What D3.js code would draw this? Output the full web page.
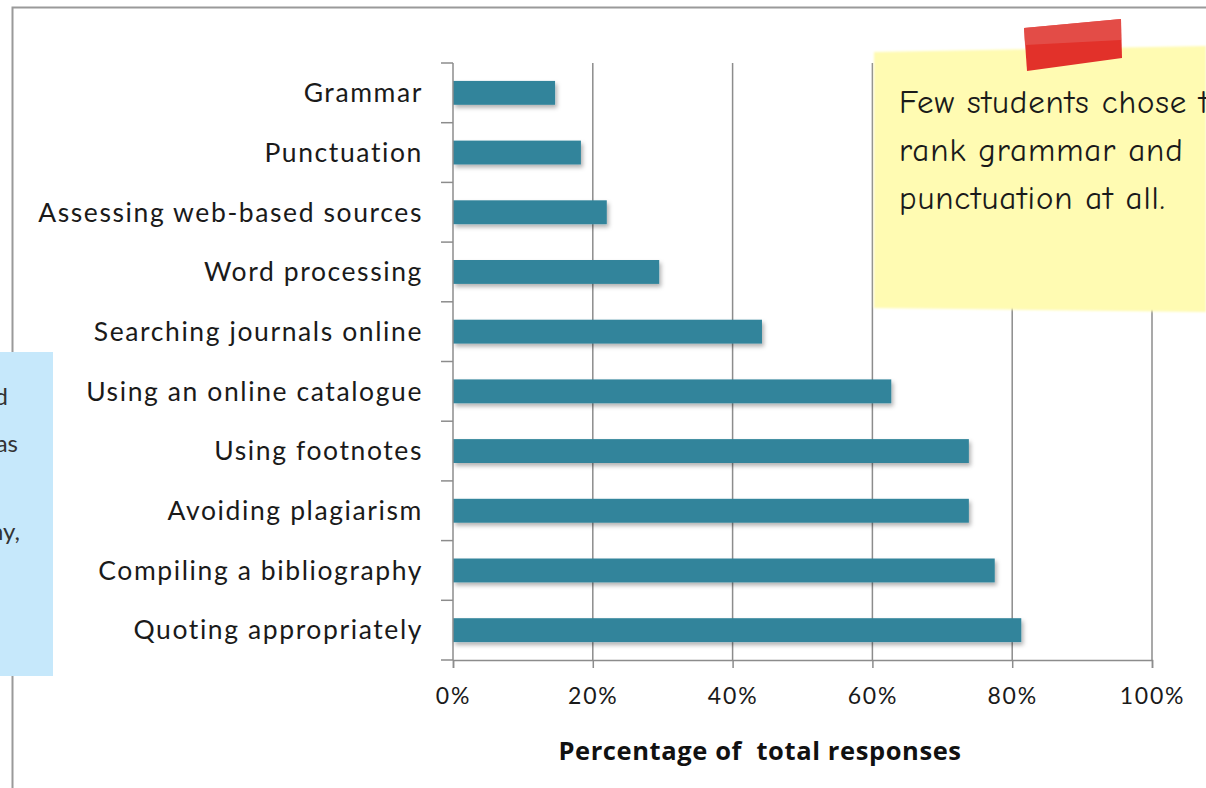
<!DOCTYPE html>
<html>
<head>
<meta charset="utf-8">
<script src="https://cdn.jsdelivr.net/npm/d3@7"></script>
<style>
  html, body { margin: 0; padding: 0; background: #fff; }
  svg { display: block; }
</style>
</head>
<body>
<svg id="chart" width="1206" height="788"></svg>
<script>
// Survey: which study skills students ranked as useful
const categories = [
  "Grammar",
  "Punctuation",
  "Assessing web-based sources",
  "Word processing",
  "Searching journals online",
  "Using an online catalogue",
  "Using footnotes",
  "Avoiding plagiarism",
  "Compiling a bibliography",
  "Quoting appropriately"
];
const percentages = [14.6, 18.3, 22.0, 29.5, 44.2, 62.7, 73.8, 73.8, 77.5, 81.3];
const xTicks = [0, 20, 40, 60, 80, 100];
const xTitle = "Percentage of  total responses";
const yellowNote = ["Few students chose to", "rank grammar and", "punctuation at all."];
const blueNote = ["Quoting appropriately and", "avoiding plagiarism was", "ranked most useful,", "then compiling a bibliography,"];

const svg = d3.select("#chart");
const W = 1206, H = 788;
const margin = { left: 453, right: 54, top: 63, bottom: 128 };
const innerW = W - margin.left - margin.right;
const innerH = H - margin.top - margin.bottom;

const defs = svg.append("defs");
const shadow = defs.append("filter").attr("id", "barShadow")
  .attr("x", "-5%").attr("y", "-30%").attr("width", "115%").attr("height", "180%");
shadow.append("feDropShadow").attr("dx", 2).attr("dy", 3)
  .attr("stdDeviation", 2).attr("flood-color", "#000").attr("flood-opacity", 0.3);

const noteBlur = defs.append("filter").attr("id", "noteSoft")
  .attr("x", "-5%").attr("y", "-5%").attr("width", "110%").attr("height", "110%");
noteBlur.append("feGaussianBlur").attr("stdDeviation", 1.2);

defs.append("clipPath").attr("id", "blueClip")
  .append("rect").attr("x", 0).attr("y", 352).attr("width", 53).attr("height", 324);

// outer frame (top and left edges visible)
svg.append("path")
  .attr("d", `M12.5,${H} V7.5 H${W}`)
  .attr("fill", "none").attr("stroke", "#9a9a9a").attr("stroke-width", 2);

const g = svg.append("g").attr("transform", `translate(${margin.left},${margin.top})`);

const x = d3.scaleLinear().domain([0, 100]).range([0, innerW]);
const y = d3.scaleBand().domain(categories).range([0, innerH]).paddingInner(0.6).paddingOuter(0.3);

const labelFont = "Lato, 'Open Sans', sans-serif";

// vertical gridlines
g.append("g").selectAll("line")
  .data(xTicks.slice(1))
  .join("line")
  .attr("x1", d => x(d)).attr("x2", d => x(d))
  .attr("y1", 0).attr("y2", innerH)
  .attr("stroke", "#8c8c8c").attr("stroke-width", 1.5);

// bars
g.append("g").selectAll("rect")
  .data(categories.map((c, i) => ({ c, v: percentages[i] })))
  .join("rect")
  .attr("x", x(0))
  .attr("y", d => y(d.c))
  .attr("width", d => x(d.v) - x(0))
  .attr("height", y.bandwidth())
  .attr("fill", "#31849b")
  .attr("filter", "url(#barShadow)");

// y axis with ticks between categories
const yAxisG = g.append("g");
yAxisG.append("line").attr("x1", 0).attr("x2", 0).attr("y1", 0).attr("y2", innerH)
  .attr("stroke", "#8c8c8c").attr("stroke-width", 1.5);
const step = innerH / categories.length;
yAxisG.selectAll("line.tk")
  .data(d3.range(categories.length + 1))
  .join("line").attr("class", "tk")
  .attr("x1", -12).attr("x2", 0)
  .attr("y1", i => i * step).attr("y2", i => i * step)
  .attr("stroke", "#8c8c8c").attr("stroke-width", 1.5);
yAxisG.selectAll("text")
  .data(categories)
  .join("text")
  .attr("x", -30)
  .attr("y", d => y(d) + y.bandwidth() / 2)
  .attr("dy", "0.35em")
  .attr("text-anchor", "end")
  .attr("font-family", labelFont)
  .attr("font-size", 26.5)
  .attr("letter-spacing", 1.6)
  .attr("fill", "#1a1a1a")
  .text(d => d);

// x axis
const xAxis = d3.axisBottom(x).tickValues(xTicks).tickFormat(d => d + "%").tickSize(8).tickPadding(20);
const xAxisG = g.append("g").attr("transform", `translate(0,${innerH})`).call(xAxis);
xAxisG.select(".domain").attr("stroke", "#8c8c8c").attr("stroke-width", 1.5);
xAxisG.selectAll(".tick line").attr("stroke", "#8c8c8c").attr("stroke-width", 1.5);
xAxisG.selectAll(".tick text")
  .attr("font-family", labelFont)
  .attr("font-size", 23)
  .attr("letter-spacing", 1.8)
  .attr("fill", "#1a1a1a");

// x axis title
g.append("text")
  .attr("x", 760 - margin.left)
  .attr("y", innerH + 100)
  .attr("text-anchor", "middle")
  .attr("font-family", "'Open Sans', Lato, sans-serif")
  .attr("font-weight", "bold")
  .attr("font-size", 25.5)
  .attr("letter-spacing", 0.6)
  .attr("fill", "#111")
  .style("white-space", "pre")
  .text(xTitle);

// yellow sticky note
const yellow = svg.append("g");
yellow.append("path")
  .attr("d", "M874,52 L1206,46 L1206,312 L874,308 Z")
  .attr("fill", "#fffbb2")
  .attr("filter", "url(#noteSoft)");
yellow.selectAll("text")
  .data(yellowNote)
  .join("text")
  .attr("x", 899)
  .attr("y", (d, i) => 113 + i * 48)
  .attr("font-family", "'Comic Sans MS', 'Comic Neue', 'DejaVu Sans', sans-serif")
  .attr("font-size", 33)
  .attr("letter-spacing", 0.9)
  .attr("fill", "#1a1a1a")
  .text(d => d);

// red tape holding the note
const tape = svg.append("g");
tape.append("path")
  .attr("d", "M1024,28 L1121,19 L1122,58 L1027,71 Z")
  .attr("fill", "#e2312a");
tape.append("path")
  .attr("d", "M1024,28 L1121,19 L1121,40 L1025,45 Z")
  .attr("fill", "#e4544f").attr("opacity", 0.8);

// blue sticky note at left edge, its text running off the page
const blue = svg.append("g");
blue.append("rect")
  .attr("x", -10).attr("y", 352).attr("width", 63).attr("height", 324)
  .attr("fill", "#c6e8fb");
blue.append("g").attr("clip-path", "url(#blueClip)")
  .selectAll("text")
  .data(blueNote)
  .join("text")
  .attr("x", (d, i) => [8, 18, -6, 20][i])
  .attr("y", (d, i) => [405, 452, 497, 540][i])
  .attr("text-anchor", "end")
  .attr("font-family", labelFont)
  .attr("font-size", 24)
  .attr("fill", "#333")
  .text(d => d);
</script>
</body>
</html>
